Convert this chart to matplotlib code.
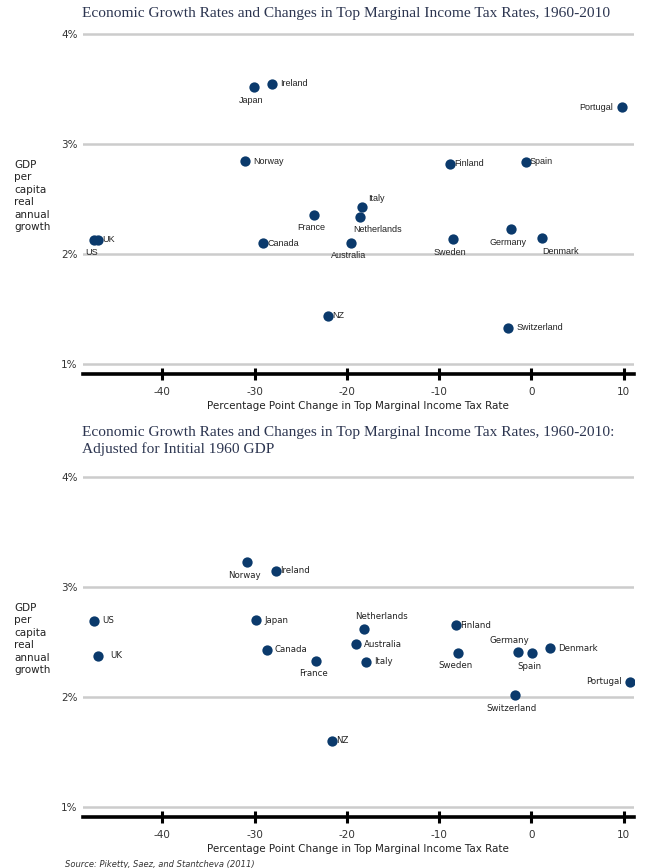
import matplotlib
matplotlib.use('Agg')
import matplotlib.pyplot as plt

# data
countries1 = ['Japan', 'Ireland', 'Portugal', 'Norway', 'Finland', 'Spain', 'Italy', 'France',
              'Netherlands', 'UK', 'US', 'Canada', 'Australia', 'Sweden', 'Germany', 'Denmark',
              'NZ', 'Switzerland']
tax1 = [-30.1, -28.1, 9.8, -31.0, -8.8, -0.6, -18.4, -23.6, -18.6, -47.0, -47.4, -29.1, -19.5,
        -8.5, -2.2, 1.2, -22.0, -2.55]
growth1 = [3.515, 3.55, 3.333, 2.845, 2.82, 2.84, 2.43, 2.355, 2.34, 2.13, 2.13, 2.10, 2.105,
           2.135, 2.225, 2.145, 1.44, 1.334]
pos1 = ['below', 'right', 'left', 'right', 'rtouch', 'rtouch', 'upright', 'below', 'belowright',
        'rtouch', 'below', 'rtouch', 'below', 'below', 'below', 'belowright', 'rtouch', 'right']

countries2 = ['Norway', 'Ireland', 'US', 'UK', 'Japan', 'Canada', 'France', 'Netherlands',
              'Australia', 'Italy', 'Finland', 'Sweden', 'Germany', 'Spain', 'Denmark', 'Portugal',
              'Switzerland', 'NZ']
tax2 = [-30.8, -27.7, -47.4, -47.0, -29.8, -28.7, -23.3, -18.1, -19.0, -17.9, -8.2, -7.9, -1.5,
        0.1, 2.0, 10.65, -1.8, -21.6]
growth2 = [3.227, 3.15, 2.695, 2.375, 2.70, 2.43, 2.333, 2.62, 2.48, 2.32, 2.653, 2.405, 2.415,
           2.40, 2.445, 2.142, 2.015, 1.604]
pos2 = ['below', 'rtouch', 'right', 'rgap', 'right', 'right', 'below', 'aboveright', 'right',
        'right', 'rtouch', 'below', 'aboveleft', 'below', 'right', 'left', 'below', 'rtouch']

yticks = [1, 2, 3, 4]
ytick_labels = ['1%', '2%', '3%', '4%']
xticks = [-40, -30, -20, -10, 0, 10]

title1 = 'Economic Growth Rates and Changes in Top Marginal Income Tax Rates, 1960-2010'
title2 = ('Economic Growth Rates and Changes in Top Marginal Income Tax Rates, 1960-2010:\n'
          'Adjusted for Intitial 1960 GDP')
xlab = 'Percentage Point Change in Top Marginal Income Tax Rate'
ylab = 'GDP\nper\ncapita\nreal\nannual\ngrowth'

navy = '#0b3a6c'
offsets = {
    'right': ((6, 0), 'left', 'center'),
    'rtouch': ((3, 0), 'left', 'center'),
    'rgap': ((9, 0), 'left', 'center'),
    'left': ((-6, 0), 'right', 'center'),
    'below': ((-2, -6), 'center', 'top'),
    'belowright': ((13, -6), 'center', 'top'),
    'upright': ((5, 3), 'left', 'bottom'),
    'aboveright': ((12, 6), 'center', 'bottom'),
    'aboveleft': ((-6, 5), 'center', 'bottom'),
}

fig = plt.figure(figsize=(6.5, 8.68), dpi=100)
ax1 = fig.add_axes([0.1277, 0.5691, 0.8473, 0.3943])
ax2 = fig.add_axes([0.1277, 0.0591, 0.8473, 0.3935])


def draw(ax, names, xs, ys, where, fam, fs):
    for y in yticks:
        ax.axhline(y, color='#cccccc', lw=1.8, zorder=1)
    ax.scatter(xs, ys, s=55, color=navy, zorder=3, linewidths=0)
    for n, x, y, p in zip(names, xs, ys, where):
        off, ha, va = offsets[p]
        ax.annotate(n, (x, y), xytext=off, textcoords='offset points', ha=ha, va=va,
                    fontsize=fs, family=fam, color='#222222')
    ax.set_xlim(-48.6, 11.1)
    ax.set_ylim(0.912, 4.02)
    ax.set_xticks(xticks)
    ax.set_xticklabels([str(t) for t in xticks], fontsize=7.5, color='#333333')
    ax.set_yticks(yticks)
    ax.set_yticklabels(ytick_labels, fontsize=7.5, color='#333333')
    ax.tick_params(axis='y', length=0, pad=4)
    ax.tick_params(axis='x', direction='inout', length=9, width=2.2, pad=5, color='black')
    for s in ['top', 'right', 'left']:
        ax.spines[s].set_visible(False)
    ax.spines['bottom'].set_linewidth(2.6)
    ax.set_xlabel(xlab, fontsize=7.5, color='#222222', labelpad=3)
    ax.text(-0.125, 0.52, ylab, transform=ax.transAxes, ha='left', va='center',
            fontsize=7.5, color='#222222', linespacing=1.3)


draw(ax1, countries1, tax1, growth1, pos1, 'Liberation Sans', 6.5)
draw(ax2, countries2, tax2, growth2, pos2, 'DejaVu Sans', 6.2)

fig.text(0.126, 0.9915, title1, ha='left', va='top', fontsize=11.1, family='Liberation Serif',
         color='#2c3550')
fig.text(0.126, 0.5095, title2, ha='left', va='top', fontsize=11.1, family='Liberation Serif',
         color='#2c3550', linespacing=1.32)
fig.text(0.1, 0.004, 'Source: Piketty, Saez, and Stantcheva (2011)',
         ha='left', va='center', fontsize=6, style='italic', color='#333333')

fig.savefig('out.png', dpi=100)
